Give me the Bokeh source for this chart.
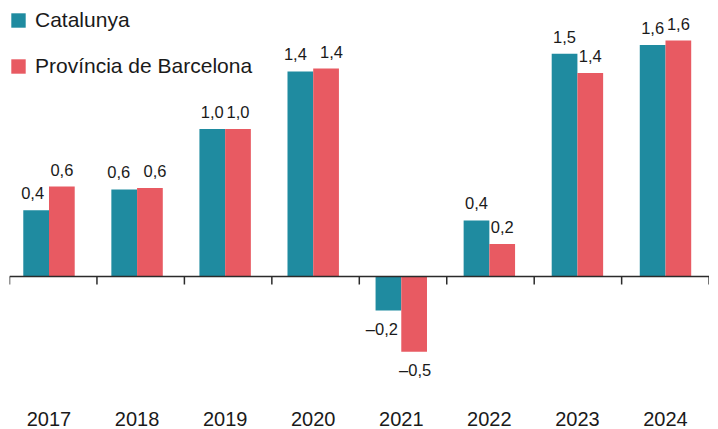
import numpy as np
from bokeh.plotting import figure
from bokeh.models import ColumnDataSource, FixedTicker, Span, Legend, LegendItem
from bokeh.core.properties import value
from bokeh.embed import file_html
from bokeh.resources import INLINE

# ---- data ----
years = ["2017", "2018", "2019", "2020", "2021", "2022", "2023", "2024"]
catalunya = [0.45, 0.59, 1.00, 1.39, -0.23, 0.38, 1.51, 1.57]
barcelona = [0.61, 0.60, 1.00, 1.41, -0.51, 0.22, 1.38, 1.60]
catalunya_labels = ["0,4", "0,6", "1,0", "1,4", "–0,2", "0,4", "1,5", "1,6"]
barcelona_labels = ["0,6", "0,6", "1,0", "1,4", "–0,5", "0,2", "1,4", "1,6"]

# ---- style ----
FONT = "Liberation Sans"
TEAL = "#1F8BA0"
RED = "#E85A62"
AXIS = "#2b2b2b"
TXT = "#1a1a1a"
BAR_W = 0.292
PX_PER_CAT = 88.07
FRAME_W, FRAME_H = 700, 385
X0 = -0.4485
X1 = X0 + FRAME_W / PX_PER_CAT
Y1 = 268 / 147.5
Y0 = -(FRAME_H - 268) / 147.5
# small horizontal label nudges (screen px), as in the original layout
cat_nudge = [-3.5, -5.5, 0, -5, -6.5, 0, 0, 0]
bcn_nudge = [0, 5, 0, 5.5, 1, 0, 0, 0]

idx = np.arange(len(years))
src = ColumnDataSource(dict(x=idx, cat=catalunya, bcn=barcelona,
                            xc=idx - BAR_W / 2, xb=idx + BAR_W / 2))

p = figure(frame_width=FRAME_W, frame_height=FRAME_H,
           x_range=(X0, X1), y_range=(Y0, Y1),
           output_backend="svg", toolbar_location=None,
           y_axis_location=None,
           min_border_left=9, min_border_right=0,
           min_border_top=8, min_border_bottom=0)
p.outline_line_color = None
p.xgrid.visible = False
p.ygrid.visible = False
p.background_fill_color = "white"
p.border_fill_color = "white"

r1 = p.vbar(x="xc", top="cat", width=BAR_W, source=src,
            fill_color=TEAL, line_color=None)
r2 = p.vbar(x="xb", top="bcn", width=BAR_W, source=src,
            fill_color=RED, line_color=None)

# value labels
lx, ly, lt, lxo, lyo = [], [], [], [], []
for i in range(len(years)):
    for xv, v, t, n in ((i - BAR_W / 2, catalunya[i], catalunya_labels[i], cat_nudge[i]),
                        (i + BAR_W / 2, barcelona[i], barcelona_labels[i], bcn_nudge[i])):
        lx.append(xv); ly.append(v); lt.append(t); lxo.append(n)
        lyo.append(-17 if v >= 0 else 18.5)
lsrc = ColumnDataSource(dict(x=lx, y=ly, text=lt, xo=lxo, yo=lyo))
p.text(x="x", y="y", text="text", x_offset="xo", y_offset="yo", source=lsrc,
       text_font=value(FONT), text_font_size="16.5px", text_align="center",
       text_baseline="alphabetic", text_color=TXT)

# baseline and category separator ticks
p.add_layout(Span(location=0, dimension="width", line_color=AXIS, line_width=1.5))
tick_x = X0 + np.arange(len(years) + 1) * 87.45 / PX_PER_CAT
p.ray(x=tick_x, y=np.zeros(len(tick_x)), length=8, length_units="screen",
      angle=-np.pi / 2, line_color=AXIS, line_width=1.5)

# year labels on the x axis
ax = p.xaxis[0]
ax.ticker = FixedTicker(ticks=[int(i) for i in idx])
ax.major_label_overrides = {int(i): y for i, y in zip(idx, years)}
ax.axis_line_color = None
ax.major_tick_line_color = None
ax.minor_tick_line_color = None
ax.major_label_standoff = 12
ax.major_label_text_font = FONT
ax.major_label_text_font_size = "20px"
ax.major_label_text_color = TXT

legend = Legend(items=[LegendItem(label="Catalunya", renderers=[r1]),
                       LegendItem(label="Província de Barcelona", renderers=[r2])],
                location="top_left", glyph_width=18, glyph_height=18,
                label_text_font=FONT, label_text_font_size="21px",
                label_text_color=TXT, label_standoff=8, spacing=22,
                padding=3, margin=0, border_line_color=None,
                background_fill_alpha=0)
p.add_layout(legend)

open("out.html", "w").write(file_html(p, INLINE))
